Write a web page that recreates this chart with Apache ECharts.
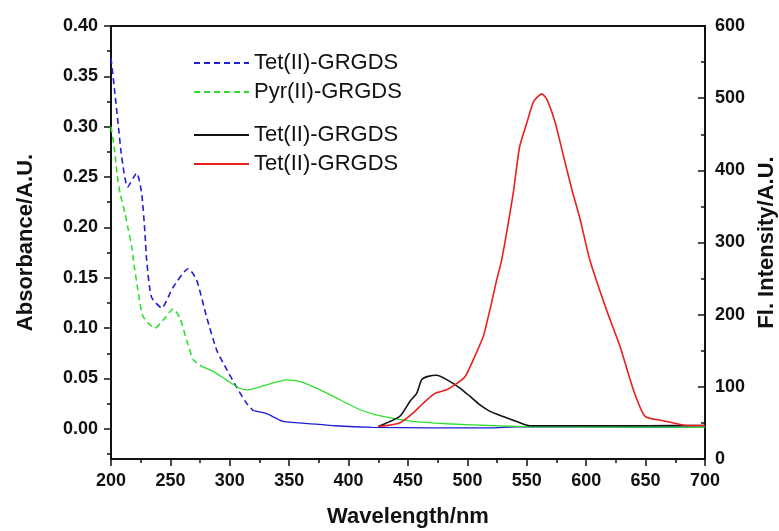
<!DOCTYPE html>
<html lang="en">

<head>
    <meta charset="UTF-8">
    <title>Absorbance / Fluorescence</title>
    <script src="https://cdn.jsdelivr.net/npm/echarts@6/dist/echarts.min.js"></script>
    <style>
        html, body { margin: 0; padding: 0; background: #fff; }
        #main { width: 779px; height: 531px; }
    </style>
</head>

<body>
    <div id="main"></div>
    <script>
        // absorbance, Tet(II)-GRGDS (blue dashed, left axis)
        var tetAbsX = [200, 203, 206, 209, 214, 221.6, 225.8, 228.6, 230, 234, 242.7, 252, 265, 272, 280.5, 289, 297.4, 304.4, 314, 319.8, 331, 345, 373, 388, 420, 470, 520, 540, 600, 650, 700];
        var tetAbsY = [0.368, 0.336, 0.303, 0.270, 0.240, 0.254, 0.234, 0.194, 0.168, 0.131, 0.120, 0.140, 0.159, 0.148, 0.111, 0.078, 0.059, 0.044, 0.0255, 0.018, 0.015, 0.0073, 0.0046, 0.003, 0.0015, 0.001, 0.001, 0.002, 0.002, 0.0015, 0.0015];

        // absorbance, Pyr(II)-GRGDS (green dashed, left axis)
        var pyrAbsX = [200, 203, 205, 207.6, 211.8, 214.6, 217.4, 218.8, 223, 227, 237, 244, 252.4, 258, 263.7, 269.3, 276.3, 286, 297, 308.6, 315.6, 331, 348, 359, 376, 392.8, 409.6, 426, 454, 482.6, 524.7, 560, 620, 700];
        var pyrAbsY = [0.300, 0.277, 0.254, 0.234, 0.214, 0.1975, 0.181, 0.168, 0.135, 0.1115, 0.100, 0.108, 0.119, 0.110, 0.088, 0.0685, 0.062, 0.057, 0.0486, 0.040, 0.0387, 0.0437, 0.0486, 0.047, 0.0387, 0.0288, 0.0189, 0.013, 0.0073, 0.005, 0.003, 0.002, 0.0018, 0.0015];

        // where the noisy absorbance traces stop looking dashed
        var tetDashEnd = 319.8;
        var pyrDashEnd = 276.3;

        // fluorescence (right axis)
        var flBlackX = [425, 443, 451.7, 457.3, 461.5, 467, 474, 482.6, 494, 502, 510.6, 519, 530, 541.4, 552.6, 600, 650, 700];
        var flBlackY = [45, 59, 80, 91, 110, 114.5, 116, 110, 98, 87, 75, 66, 59, 52, 46, 46, 46, 46.5];

        var flRedX = [425, 443, 454.4, 463, 472.7, 482.6, 489.6, 498, 505, 513.4, 519, 524.7, 528.9, 538.6, 544, 550, 555.8, 562.8, 567, 574, 581, 588, 595, 603, 617, 628.5, 639.7, 649.6, 665, 684.6, 700];
        var flRedY = [45, 50, 64, 77.6, 91, 96, 103, 114, 137.6, 170, 207, 248.5, 276, 368.6, 433, 465.6, 495.5, 506, 498, 465.6, 419, 373, 331.6, 276, 207, 156, 96, 59, 53, 46.5, 46.5];

        // tick values
        var absLabels = [0, 0.05, 0.10, 0.15, 0.20, 0.25, 0.30, 0.35, 0.40];
        var absMinor = [-0.025, 0.025, 0.075, 0.125, 0.175, 0.225, 0.275, 0.325, 0.375];

        var legendNames = ['Tet(II)-GRGDS', 'Pyr(II)-GRGDS', 'Tet(II)-GRGDS ', 'Tet(II)-GRGDS  '];

        function pairs(xs, ys) {
            return xs.map(function (x, i) { return [x, ys[i]]; });
        }
        function upTo(xs, ys, end) {
            return pairs(xs, ys).filter(function (p) { return p[0] <= end; });
        }
        function from(xs, ys, start) {
            return pairs(xs, ys).filter(function (p) { return p[0] >= start; });
        }

        var font = 'Liberation Sans, Arial, sans-serif';
        var tickFont = { fontFamily: font, fontSize: 18, fontWeight: 'bold', color: '#111' };
        var nameFont = { fontFamily: font, fontSize: 22, fontWeight: 'bold', color: '#111' };
        var axisLine = { show: true, onZero: false, lineStyle: { color: '#111', width: 2 } };
        var blue = '#1f1fd6', green = '#2ee02e', red = '#e8201e';

        var legendBase = {
            orient: 'vertical', left: 188,
            itemWidth: 55, itemHeight: 14, itemGap: 7,
            selectedMode: false,
            itemStyle: { opacity: 0 },
            formatter: function (n) { return n.trim(); },
            textStyle: { fontFamily: font, fontSize: 22, color: '#111', lineHeight: 22 }
        };

        var myChart = echarts.init(document.getElementById('main'));

        var option = {
            animation: false,
            grid: {
                left: 111, right: 74, top: 26, bottom: 72,
                outerBoundsMode: 'none',
                show: true, borderColor: '#111', borderWidth: 2
            },
            legend: [
                Object.assign({ data: legendNames.slice(0, 2), top: 47 }, legendBase),
                Object.assign({ data: legendNames.slice(2), top: 119 }, legendBase)
            ],
            xAxis: {
                type: 'value', min: 200, max: 700, interval: 50,
                name: 'Wavelength/nm', nameLocation: 'middle', nameGap: 47,
                nameTextStyle: nameFont,
                axisLine: axisLine,
                axisTick: { show: true, length: 7, lineStyle: { color: '#111', width: 1.5 } },
                minorTick: { show: true, splitNumber: 2, length: 4, lineStyle: { color: '#111', width: 1.5 } },
                axisLabel: Object.assign({ margin: 13 }, tickFont),
                splitLine: { show: false }
            },
            yAxis: [{
                type: 'value', min: -0.03, max: 0.40, position: 'left',
                name: 'Absorbance/A.U.', nameLocation: 'middle', nameGap: 74,
                nameTextStyle: nameFont,
                axisLine: axisLine,
                axisTick: { show: true, length: 7, customValues: absLabels, lineStyle: { color: '#111', width: 1.5 } },
                axisLabel: Object.assign({ margin: 13, customValues: absLabels, formatter: function (v) { return v.toFixed(2); } }, tickFont),
                splitLine: { show: false }
            }, {
                type: 'value', min: 0, max: 600, interval: 100, position: 'right',
                name: 'Fl. Intensity/A.U.', nameLocation: 'middle', nameGap: 50,
                nameTextStyle: nameFont,
                axisLine: axisLine,
                axisTick: { show: true, inside: true, length: 7, lineStyle: { color: '#111', width: 1.5 } },
                minorTick: { show: true, splitNumber: 2, length: 4, lineStyle: { color: '#111', width: 1.5 } },
                axisLabel: Object.assign({ margin: 10 }, tickFont),
                splitLine: { show: false }
            }, {
                // minor ticks of the absorbance axis
                type: 'value', min: -0.03, max: 0.40, position: 'left', offset: 0,
                axisLine: { show: false },
                axisTick: { show: true, length: 4, customValues: absMinor, lineStyle: { color: '#111', width: 1.5 } },
                axisLabel: { show: false },
                splitLine: { show: false }
            }],
            series: [{
                name: legendNames[0], type: 'line', yAxisIndex: 0,
                data: upTo(tetAbsX, tetAbsY, tetDashEnd), symbol: 'none', smooth: 0.2,
                lineStyle: { color: blue, width: 1.6, type: [6, 4] },
                itemStyle: { color: blue }
            }, {
                type: 'line', yAxisIndex: 0,
                data: from(tetAbsX, tetAbsY, tetDashEnd), symbol: 'none', smooth: 0.2,
                lineStyle: { color: blue, width: 1.3 },
                itemStyle: { color: blue }
            }, {
                name: legendNames[1], type: 'line', yAxisIndex: 0,
                data: upTo(pyrAbsX, pyrAbsY, pyrDashEnd), symbol: 'none', smooth: 0.2,
                lineStyle: { color: green, width: 1.6, type: [6, 4] },
                itemStyle: { color: green }
            }, {
                type: 'line', yAxisIndex: 0,
                data: from(pyrAbsX, pyrAbsY, pyrDashEnd), symbol: 'none', smooth: 0.2,
                lineStyle: { color: green, width: 1.3 },
                itemStyle: { color: green }
            }, {
                name: legendNames[2], type: 'line', yAxisIndex: 1,
                data: pairs(flBlackX, flBlackY), symbol: 'none', smooth: 0.2,
                lineStyle: { color: '#111', width: 1.6 },
                itemStyle: { color: '#111' }
            }, {
                name: legendNames[3], type: 'line', yAxisIndex: 1,
                data: pairs(flRedX, flRedY), symbol: 'none', smooth: 0.2,
                lineStyle: { color: red, width: 1.6 },
                itemStyle: { color: red }
            }]
        };

        myChart.setOption(option);
    </script>
</body>

</html>
